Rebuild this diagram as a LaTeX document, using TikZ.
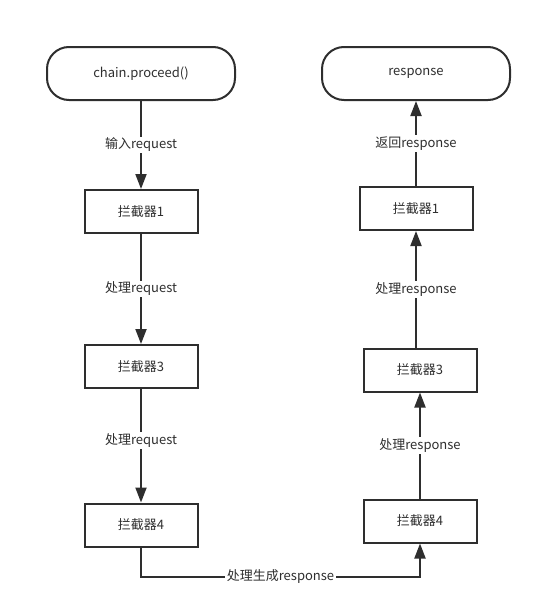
\documentclass[tikz,border=0pt]{standalone}
\usepackage{fontspec}
\setmainfont{Noto Sans CJK SC}
\usetikzlibrary{arrows.meta,positioning}
\definecolor{linie}{HTML}{2E2E2E}

\begin{document}
\begin{tikzpicture}[x=1pt,y=-1pt,font=\fontsize{13}{15}\selectfont,text=linie]
		\useasboundingbox (0,0) rectangle (541,608);

		\begin{scope}[every node/.style={draw=linie,line width=2pt,minimum width=113pt,minimum height=43pt,inner sep=0pt}]
			\node[rounded corners=22pt,minimum width=188pt,minimum height=53pt] (chain) at (141,73.5) {chain.proceed()};
			\node (req1) at (141,211.5) {拦截器1};
			\node (req3) at (141,366.5) {拦截器3};
			\node (req4) at (141,525) {拦截器4};
			\node[rounded corners=22pt,minimum width=188pt,minimum height=53pt] (antwort) at (416,73.5) {response};
			\node (resp1) at (416,208.5) {拦截器1};
			\node (resp3) at (420,370) {拦截器3};
			\node (resp4) at (420,521) {拦截器4};
		\end{scope}

		\coordinate (eckeL) at (141,577);
		\coordinate (eckeR) at (420,577);

		\begin{scope}[line width=2pt,>={Triangle[length=15pt,width=11pt]},
			beschr/.style={fill=white,inner sep=1.5pt,text=linie}
		]
			\draw[->,linie] (chain) -- node[beschr] {输入request} (req1);
			\draw[->,linie] (req1) -- node[beschr] {处理request} (req3);
			\draw[->,linie] (req3) -- node[beschr,pos=0.45] {处理request} (req4);
			\draw[->,linie] (req4) -- (eckeL) -- node[beschr] {处理生成response} (eckeR) -- (resp4);
			\draw[->,linie] (resp4) -- node[beschr] {处理response} (resp3);
			\draw[->,linie] (resp3.north -| resp1) -- node[beschr] {处理response} (resp1);
			\draw[->,linie] (resp1) -- node[beschr] {返回response} (antwort);
		\end{scope}
	\end{tikzpicture}
\end{document}
